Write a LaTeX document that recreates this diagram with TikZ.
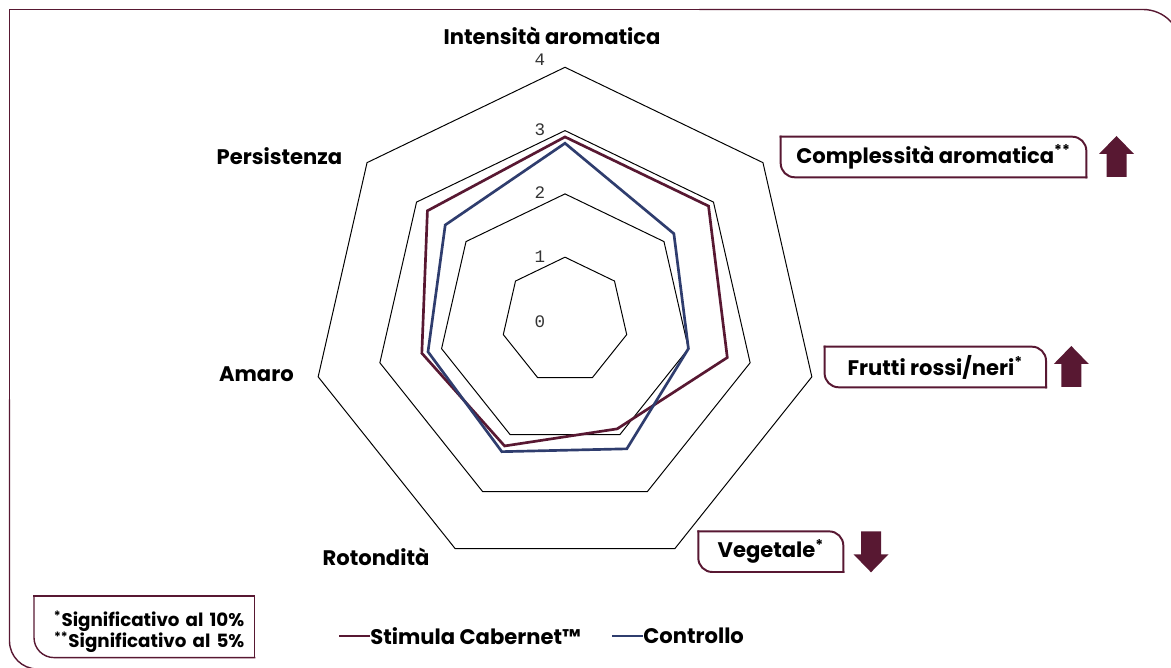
\documentclass[tikz,border=0pt]{standalone}
\usepackage{fontspec}
\setmainfont{Poppins}
\newfontfamily\tickfont{Liberation Mono}
\usetikzlibrary{positioning}

\definecolor{wine}{RGB}{88,24,50}
\definecolor{ctrlblue}{RGB}{47,61,110}

\tikzset{
  frameline/.style={wine, line width=1pt, line cap=rect},
  boxline/.style={wine, line width=1.4pt, line cap=rect},
  gridline/.style={black, line width=0.7pt},
  stimula/.style={wine, line width=1.9pt},
  controllo/.style={ctrlblue, line width=1.9pt},
  catlabel/.style={font=\fontsize{15}{17}\selectfont\bfseries},
  ticklabel/.style={font=\tickfont\fontsize{12.5}{14}\selectfont, text=black!80},
  signbox/.style={catlabel, inner sep=0pt, minimum height=1cm},
  notelabel/.style={font=\fontsize{13}{15}\selectfont\bfseries, align=right, text width=5cm, inner xsep=0.25cm, inner ysep=0pt, minimum height=1.53cm},
  blockarrow/.pic={\fill[wine] (0,0) -- (17.5,18) -- (10,18) -- (10,41) -- (-10,41) -- (-10,18) -- (-17.5,18) -- cycle;}
}

% box with two rounded corners (top right, bottom left)
\newcommand\cutbox[1]{%
  \draw[boxline, rounded corners=0.35cm] (#1.north west) -- (#1.north east) -- (#1.south east);
  \draw[boxline, rounded corners=0.35cm] (#1.south east) -- (#1.south west) -- (#1.north west);
}
\newcommand\signif[1]{\textsuperscript{#1}}

\begin{document}
\begin{tikzpicture}[x=0.025cm, y=-0.025cm]
  \useasboundingbox (0,0) rectangle (1171,668);
  % outer frame
  \draw[frameline] (9.5,400) -- (9.5,9.5) -- (700,9.5);
  \draw[frameline, rounded corners=0.95cm] (700,9.5) -- (1181,9.5) -- (1181,400);
  \draw[frameline, rounded corners=0.7cm] (9.5,400) -- (9.5,669) -- (700,669);

  % radar: 7 axes, 63.3 px per step
  \begin{scope}[shift={(565,320.5)}, yscale=-1]
    \foreach \k in {1,...,4}
      \draw[gridline] (90:{\k*63.3}) \foreach \a in {1,...,6} { -- ({90-\a*360/7}:{\k*63.3}) } -- cycle;
    \foreach \v [count=\i from 0] in {2.9,2.9,2.63,1.9,2.2,2.32,2.78}
      \coordinate (s\i) at ({90-\i*360/7}:{\v*63.3});
    \foreach \v [count=\i from 0] in {2.8,2.2,2.0,2.25,2.3,2.22,2.42}
      \coordinate (c\i) at ({90-\i*360/7}:{\v*63.3});
    \draw[stimula] (s0) \foreach \i in {1,...,6} { -- (s\i) } -- cycle;
    \draw[controllo] (c0) \foreach \i in {1,...,6} { -- (c\i) } -- cycle;
  \end{scope}

  % edit here for the scale numbers
  \foreach \k/\ypos in {0/321.7,1/256.7,2/192.7,3/130,4/60}
    \node[ticklabel] (tick\k) at (540,\ypos) {\k};

  \node[catlabel] (intensita) at (552,36) {Intensità aromatica};
  \node[catlabel] (persistenza) at (279.4,156) {Persistenza};
  \node[catlabel] (amaro) at (256.4,374) {Amaro};
  \node[catlabel] (rotondita) at (376,557) {Rotondità};

  \node[signbox, minimum width=7.625cm] (complessita) at (933.5,157) {Complessità aromatica\signif{**}};
  \cutbox{complessita}
  \pic at (1116.5,136) {blockarrow};
  \node[signbox, minimum width=5.52cm] (frutti) at (935.3,367) {Frutti rossi/neri\signif{*}};
  \cutbox{frutti}
  \pic at (1071.3,346) {blockarrow};
  \node[signbox, minimum width=3.61cm] (vegetale) at (770.8,551.7) {Vegetale\signif{*}};
  \cutbox{vegetale}
  \pic[rotate=180] at (871,572.3) {blockarrow};

  \node[notelabel] (note) at (144.3,626.7) {\rule{0pt}{18pt}\signif{*}Significativo al 10\%\\{}\signif{**}Significativo al 5\%};
  \draw[boxline, line width=1pt] (note.south east) -- (note.north east) -- (note.north west);
  \draw[boxline, line width=1pt, rounded corners=0.5cm] (note.north west) -- (note.south west) -- (note.south east);

  \node[catlabel, anchor=west, inner sep=0pt] (legstimula) at (370,636) {Stimula Cabernet™};
  \draw[stimula] (legstimula.west) -- ++(-31,0);
  \node[catlabel, anchor=west, inner sep=0pt] (legcontrollo) at (643,636) {Controllo};
  \draw[controllo] (legcontrollo.west) -- ++(-31,0);
\end{tikzpicture}
\end{document}
